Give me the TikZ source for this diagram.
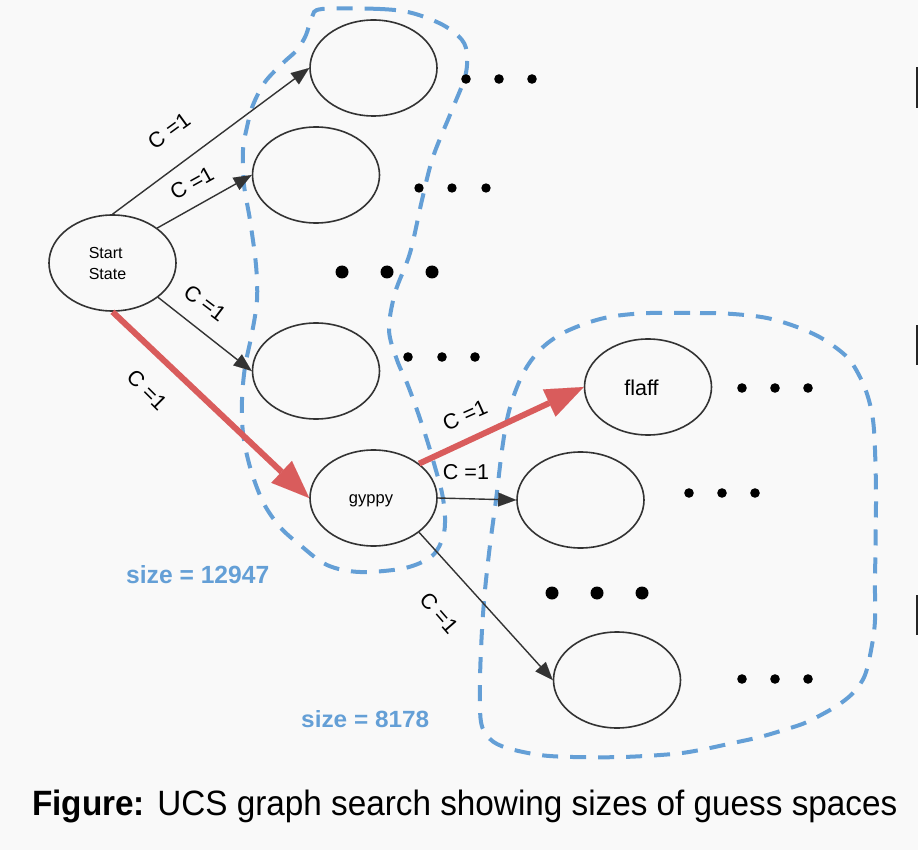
\documentclass[tikz,border=0pt]{standalone}
\usepackage{fontspec}
\setmainfont{Liberation Sans}
\usepackage{graphicx}
\usetikzlibrary{arrows.meta,shapes.geometric}
\definecolor{bgc}{HTML}{F9F9F9}
\definecolor{edgec}{HTML}{333333}
\definecolor{redc}{HTML}{D95C5C}
\definecolor{bluec}{HTML}{649FD6}
\begin{document}
\begin{tikzpicture}[x=1pt,y=-1pt,
  st/.style={draw=edgec, line width=1.6pt, ellipse, minimum width=127pt, minimum height=96pt, inner sep=0pt},
  edge/.style={draw=edgec, line width=1.4pt, -{Triangle[length=18pt,width=14pt,line width=0.01pt]}},
  redge/.style={draw=redc, line width=6pt, -{Triangle[length=38pt,width=30pt,line width=0.01pt]}},
  lbl/.style={font=\fontsize{21.5}{24}\selectfont, inner sep=0pt},
  ntxt/.style={inner sep=0pt},
  region/.style={draw=bluec, line width=4pt, dash pattern=on 16pt off 12pt},
  smalldot/.style={fill=black},
  bigdot/.style={fill=black},
  bar/.style={fill=black!85}
]
\fill[bgc] (0,0) rectangle (918,850);
\useasboundingbox (0,0) rectangle (918,850);

% regions
\draw[region] plot[smooth cycle, tension=0.55] coordinates {
 (322,9) (380,9) (412,13) (443,25) (462,40) (467,55) (465,77) (452,110) (433,157) (422,200) (410,253) (395,293) (389,330)
 (397,360) (407,383) (417,410) (427,440) (435,467) (442,493) (445,517) (443,537) (432,556) (405,568) (360,572) (327,565)
 (300,545) (280,527) (263,502) (250,467) (243,433) (242,400) (245,367) (252,333) (257,300) (256,265) (250,220) (244,185)
 (243,150) (247,127) (253,105) (265,82) (283,63) (297,50) (306,35) (312,17)};
\draw[region] plot[smooth cycle, tension=0.55] coordinates {
 (650,313) (700,313) (733,314) (767,318) (797,327) (823,339) (847,357) (860,377) (868,397) (873,420) (875,450) (876,500)
 (875,583) (875,620) (872,645) (865,675) (853,693) (835,707) (807,722) (787,729) (760,737) (733,743) (700,750) (673,754)
 (623,757) (573,757) (540,755) (507,748) (490,739) (481,722) (480,680) (482,630) (485,590) (490,545) (496,500) (502,450)
 (508,415) (517,387) (528,365) (543,347) (563,333) (590,322) (615,316)};

% state nodes
\node[st] (start) at (112.5,263) {};
\node[st] (t1) at (373.5,68) {};
\node[st] (t2) at (316,175) {};
\node[st] (m3) at (316,371) {};
\node[st] (g) at (373.5,498) {};
\node[st] (fl) at (648,387) {};
\node[st] (r2) at (580.5,500) {};
\node[st] (bt) at (617,680) {};

\node[ntxt, align=left, font=\fontsize{16}{21}\selectfont] (starttxt) at (107.5,263) {Start\\State};
\node[ntxt, anchor=base, font=\fontsize{16.5}{20}\selectfont] (gtxt) at (371,503) {gyppy};
\node[ntxt, anchor=base, font=\fontsize{21.5}{24}\selectfont] (ftxt) at (641.5,395) {flaff};

% connectors
\draw[edge] (start.north) -- (t1.west);
\draw[edge] (start.38) -- (t2.west);
\draw[edge] (start.-37) -- (m3.west);
\draw[redge] (start.south) -- (g.west);
\draw[redge] (g.37) -- (fl.west);
\draw[edge] (g.east) -- (r2.west);
\draw[edge] (g.-37) -- (bt.west);

% labels
\node[lbl, rotate=36] (l1) at (169,131) {C =1};
\node[lbl, rotate=29] (l2) at (192,183) {C =1};
\node[lbl, rotate=-37] (l3) at (205,303) {C =1};
\node[lbl, rotate=-45] (l4) at (147,390) {C =1};
\node[lbl, rotate=24] (l5) at (465,415) {C =1};
\node[lbl] (l6) at (466,472) {C =1};
\node[lbl, rotate=-49] (l7) at (439,613) {C =1};

% dots
\foreach \x in {466,499,532} \fill[smalldot] (\x,79) circle (4.8pt);
\foreach \x in {419,452,486} \fill[smalldot] (\x,188) circle (4.7pt);
\foreach \x in {342,387,432} \fill[bigdot] (\x,272) circle (6.5pt);
\foreach \x in {408,442,475} \fill[smalldot] (\x,357) circle (4.8pt);
\foreach \x in {742,775,808} \fill[smalldot] (\x,388) circle (4.8pt);
\foreach \x in {689,722,755} \fill[smalldot] (\x,493) circle (4.8pt);
\foreach \x in {552,597,642} \fill[bigdot] (\x,593) circle (6.5pt);
\foreach \x in {742,775,808} \fill[smalldot] (\x,679) circle (4.8pt);

% size labels
\node[ntxt, anchor=base west, text=bluec] (s1) at (126,583) {\resizebox{143pt}{18pt}{\bfseries size = 12947}};
\node[ntxt, anchor=base west, text=bluec] (s2) at (301,727) {\resizebox{128pt}{17pt}{\bfseries size = 8178}};

% caption
\node[ntxt, anchor=base west] (cap) at (32,815) {\resizebox{865pt}{25.5pt}{\textbf{Figure:} UCS graph search showing sizes of guess spaces}};

% edge marks at right border
\fill[bar] (916.3,67) rectangle (918,108);
\fill[bar] (916.3,325) rectangle (918,365);
\fill[bar] (916.3,595) rectangle (918,635);
\end{tikzpicture}
\end{document}
